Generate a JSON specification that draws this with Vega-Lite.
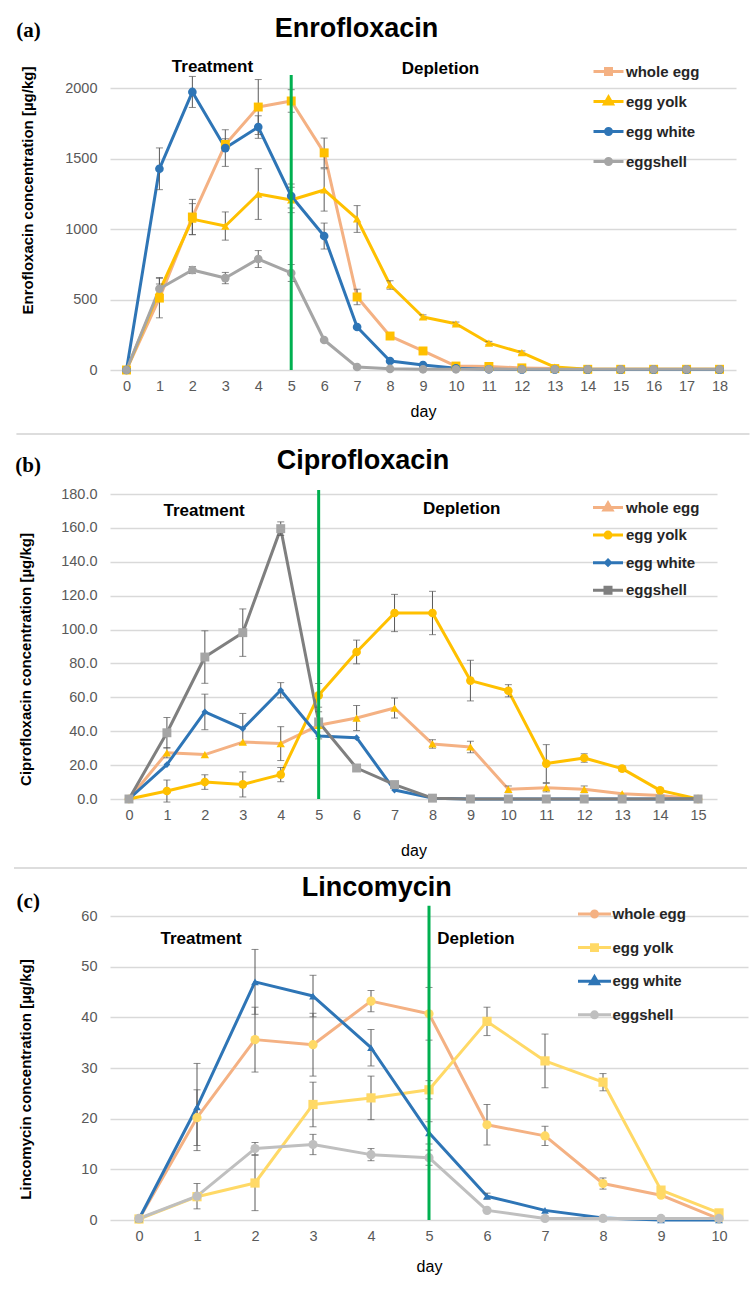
{
  "$schema": "https://vega.github.io/schema/vega-lite/v6.json",
  "background": "white",
  "padding": {"left": 13, "top": 14, "right": 1, "bottom": 5},
  "bounds": "flush",
  "spacing": 117,
  "config": {
    "font": "Liberation Sans",
    "view": {"stroke": null},
    "axis": {"labelFont": "Liberation Sans", "labelFontSize": 14.5, "labelColor": "#595959", "labelOverlap": false, "ticks": false, "domain": false, "gridColor": "#D9D9D9", "gridWidth": 1.5, "titleFont": "Liberation Sans", "titleColor": "#000000"},
    "axisX": {"grid": false, "labelPadding": 9, "titleFontSize": 16, "titleFontWeight": "normal", "labelAngle": 0, "labelFlush": false, "format": "d"},
    "axisY": {"labelPadding": 13, "titleFontSize": 15, "titleFontWeight": "bold", "titleBaseline": "middle", "labelFlush": false},
    "legend": {"padding": 0, "labelFont": "Liberation Sans", "labelFontSize": 15, "labelFontWeight": "bold", "labelColor": "#262626", "symbolStrokeWidth": 3, "symbolOpacity": 1}
  },
  "datasets": {
    "a": [
      {"day": 0, "series": "whole egg", "v": 0, "sd": 0}, {"day": 1, "series": "whole egg", "v": 510, "sd": 140}, {"day": 2, "series": "whole egg", "v": 1085, "sd": 125}, {"day": 3, "series": "whole egg", "v": 1600, "sd": 40}, {"day": 4, "series": "whole egg", "v": 1865, "sd": 195}, {"day": 5, "series": "whole egg", "v": 1908, "sd": 80}, {"day": 6, "series": "whole egg", "v": 1540, "sd": 105}, {"day": 7, "series": "whole egg", "v": 518, "sd": 55}, {"day": 8, "series": "whole egg", "v": 241, "sd": 0}, {"day": 9, "series": "whole egg", "v": 135, "sd": 0}, {"day": 10, "series": "whole egg", "v": 28, "sd": 0}, {"day": 11, "series": "whole egg", "v": 25, "sd": 0}, {"day": 12, "series": "whole egg", "v": 15, "sd": 0}, {"day": 13, "series": "whole egg", "v": 10, "sd": 0}, {"day": 14, "series": "whole egg", "v": 5, "sd": 0}, {"day": 15, "series": "whole egg", "v": 5, "sd": 0}, {"day": 16, "series": "whole egg", "v": 5, "sd": 0}, {"day": 17, "series": "whole egg", "v": 5, "sd": 0}, {"day": 18, "series": "whole egg", "v": 5, "sd": 0},
      {"day": 0, "series": "egg yolk", "v": 0, "sd": 0}, {"day": 1, "series": "egg yolk", "v": 560, "sd": 50}, {"day": 2, "series": "egg yolk", "v": 1070, "sd": 110}, {"day": 3, "series": "egg yolk", "v": 1021, "sd": 100}, {"day": 4, "series": "egg yolk", "v": 1248, "sd": 180}, {"day": 5, "series": "egg yolk", "v": 1206, "sd": 90}, {"day": 6, "series": "egg yolk", "v": 1277, "sd": 150}, {"day": 7, "series": "egg yolk", "v": 1071, "sd": 95}, {"day": 8, "series": "egg yolk", "v": 603, "sd": 30}, {"day": 9, "series": "egg yolk", "v": 376, "sd": 15}, {"day": 10, "series": "egg yolk", "v": 328, "sd": 12}, {"day": 11, "series": "egg yolk", "v": 191, "sd": 12}, {"day": 12, "series": "egg yolk", "v": 123, "sd": 12}, {"day": 13, "series": "egg yolk", "v": 21, "sd": 0}, {"day": 14, "series": "egg yolk", "v": 5, "sd": 0}, {"day": 15, "series": "egg yolk", "v": 5, "sd": 0}, {"day": 16, "series": "egg yolk", "v": 5, "sd": 0}, {"day": 17, "series": "egg yolk", "v": 5, "sd": 0}, {"day": 18, "series": "egg yolk", "v": 5, "sd": 0},
      {"day": 0, "series": "egg white", "v": 0, "sd": 0}, {"day": 1, "series": "egg white", "v": 1427, "sd": 148}, {"day": 2, "series": "egg white", "v": 1972, "sd": 110}, {"day": 3, "series": "egg white", "v": 1574, "sd": 130}, {"day": 4, "series": "egg white", "v": 1723, "sd": 80}, {"day": 5, "series": "egg white", "v": 1234, "sd": 85}, {"day": 6, "series": "egg white", "v": 950, "sd": 92}, {"day": 7, "series": "egg white", "v": 305, "sd": 0}, {"day": 8, "series": "egg white", "v": 64, "sd": 0}, {"day": 9, "series": "egg white", "v": 35, "sd": 0}, {"day": 10, "series": "egg white", "v": 12, "sd": 0}, {"day": 11, "series": "egg white", "v": 5, "sd": 0}, {"day": 12, "series": "egg white", "v": 3, "sd": 0}, {"day": 13, "series": "egg white", "v": 3, "sd": 0}, {"day": 14, "series": "egg white", "v": 3, "sd": 0}, {"day": 15, "series": "egg white", "v": 3, "sd": 0}, {"day": 16, "series": "egg white", "v": 3, "sd": 0}, {"day": 17, "series": "egg white", "v": 3, "sd": 0}, {"day": 18, "series": "egg white", "v": 3, "sd": 0},
      {"day": 0, "series": "eggshell", "v": 0, "sd": 0}, {"day": 1, "series": "eggshell", "v": 576, "sd": 80}, {"day": 2, "series": "eggshell", "v": 709, "sd": 25}, {"day": 3, "series": "eggshell", "v": 652, "sd": 40}, {"day": 4, "series": "eggshell", "v": 787, "sd": 60}, {"day": 5, "series": "eggshell", "v": 688, "sd": 60}, {"day": 6, "series": "eggshell", "v": 213, "sd": 0}, {"day": 7, "series": "eggshell", "v": 21, "sd": 0}, {"day": 8, "series": "eggshell", "v": 8, "sd": 0}, {"day": 9, "series": "eggshell", "v": 5, "sd": 0}, {"day": 10, "series": "eggshell", "v": 5, "sd": 0}, {"day": 11, "series": "eggshell", "v": 5, "sd": 0}, {"day": 12, "series": "eggshell", "v": 5, "sd": 0}, {"day": 13, "series": "eggshell", "v": 5, "sd": 0}, {"day": 14, "series": "eggshell", "v": 5, "sd": 0}, {"day": 15, "series": "eggshell", "v": 5, "sd": 0}, {"day": 16, "series": "eggshell", "v": 5, "sd": 0}, {"day": 17, "series": "eggshell", "v": 5, "sd": 0}, {"day": 18, "series": "eggshell", "v": 5, "sd": 0}
    ],
    "b": [
      {"day": 0, "series": "whole egg", "v": 0, "sd": 0}, {"day": 1, "series": "whole egg", "v": 27.3, "sd": 3}, {"day": 2, "series": "whole egg", "v": 26.2, "sd": 0}, {"day": 3, "series": "whole egg", "v": 33.6, "sd": 0}, {"day": 4, "series": "whole egg", "v": 32.7, "sd": 10}, {"day": 5, "series": "whole egg", "v": 43.5, "sd": 8}, {"day": 6, "series": "whole egg", "v": 47.8, "sd": 7.4}, {"day": 7, "series": "whole egg", "v": 53.7, "sd": 5.9}, {"day": 8, "series": "whole egg", "v": 32.5, "sd": 2.5}, {"day": 9, "series": "whole egg", "v": 30.7, "sd": 3.4}, {"day": 10, "series": "whole egg", "v": 5.7, "sd": 2}, {"day": 11, "series": "whole egg", "v": 6.7, "sd": 2.5}, {"day": 12, "series": "whole egg", "v": 5.7, "sd": 2}, {"day": 13, "series": "whole egg", "v": 3.1, "sd": 0}, {"day": 14, "series": "whole egg", "v": 2, "sd": 0}, {"day": 15, "series": "whole egg", "v": 0, "sd": 0},
      {"day": 0, "series": "egg yolk", "v": 0, "sd": 0}, {"day": 1, "series": "egg yolk", "v": 4.7, "sd": 6.5}, {"day": 2, "series": "egg yolk", "v": 10, "sd": 4.3}, {"day": 3, "series": "egg yolk", "v": 8.6, "sd": 7.4}, {"day": 4, "series": "egg yolk", "v": 14.4, "sd": 4.2}, {"day": 5, "series": "egg yolk", "v": 61.2, "sd": 7}, {"day": 6, "series": "egg yolk", "v": 86.8, "sd": 7}, {"day": 7, "series": "egg yolk", "v": 109.8, "sd": 11}, {"day": 8, "series": "egg yolk", "v": 109.8, "sd": 12.8}, {"day": 9, "series": "egg yolk", "v": 69.9, "sd": 12}, {"day": 10, "series": "egg yolk", "v": 63.9, "sd": 3.6}, {"day": 11, "series": "egg yolk", "v": 20.9, "sd": 11.2}, {"day": 12, "series": "egg yolk", "v": 24.2, "sd": 2.5}, {"day": 13, "series": "egg yolk", "v": 17.9, "sd": 1.5}, {"day": 14, "series": "egg yolk", "v": 5.1, "sd": 1}, {"day": 15, "series": "egg yolk", "v": 0, "sd": 0},
      {"day": 0, "series": "egg white", "v": 0, "sd": 0}, {"day": 1, "series": "egg white", "v": 20.3, "sd": 0}, {"day": 2, "series": "egg white", "v": 51.4, "sd": 10.5}, {"day": 3, "series": "egg white", "v": 41.5, "sd": 9}, {"day": 4, "series": "egg white", "v": 64.2, "sd": 4.5}, {"day": 5, "series": "egg white", "v": 37.2, "sd": 0}, {"day": 6, "series": "egg white", "v": 36.2, "sd": 0}, {"day": 7, "series": "egg white", "v": 5.3, "sd": 0}, {"day": 8, "series": "egg white", "v": 0.5, "sd": 0}, {"day": 9, "series": "egg white", "v": 0, "sd": 0}, {"day": 10, "series": "egg white", "v": 0, "sd": 0}, {"day": 11, "series": "egg white", "v": 0, "sd": 0}, {"day": 12, "series": "egg white", "v": 0, "sd": 0}, {"day": 13, "series": "egg white", "v": 0, "sd": 0}, {"day": 14, "series": "egg white", "v": 0, "sd": 0}, {"day": 15, "series": "egg white", "v": 0, "sd": 0},
      {"day": 0, "series": "eggshell", "v": 0, "sd": 0}, {"day": 1, "series": "eggshell", "v": 39.1, "sd": 9}, {"day": 2, "series": "eggshell", "v": 83.8, "sd": 15.5}, {"day": 3, "series": "eggshell", "v": 98.2, "sd": 14}, {"day": 4, "series": "eggshell", "v": 159.6, "sd": 4}, {"day": 5, "series": "eggshell", "v": 45.5, "sd": 0}, {"day": 6, "series": "eggshell", "v": 18.3, "sd": 0}, {"day": 7, "series": "eggshell", "v": 8.5, "sd": 0}, {"day": 8, "series": "eggshell", "v": 0.5, "sd": 0}, {"day": 9, "series": "eggshell", "v": 0, "sd": 0}, {"day": 10, "series": "eggshell", "v": 0, "sd": 0}, {"day": 11, "series": "eggshell", "v": 0, "sd": 0}, {"day": 12, "series": "eggshell", "v": 0, "sd": 0}, {"day": 13, "series": "eggshell", "v": 0, "sd": 0}, {"day": 14, "series": "eggshell", "v": 0, "sd": 0}, {"day": 15, "series": "eggshell", "v": 0, "sd": 0}
    ],
    "c": [
      {"day": 0, "series": "whole egg", "v": 0.2, "sd": 0}, {"day": 1, "series": "whole egg", "v": 20.2, "sd": 5.5}, {"day": 2, "series": "whole egg", "v": 35.6, "sd": 6.4}, {"day": 3, "series": "whole egg", "v": 34.6, "sd": 6.2}, {"day": 4, "series": "whole egg", "v": 43.2, "sd": 2.1}, {"day": 5, "series": "whole egg", "v": 40.7, "sd": 5.2}, {"day": 6, "series": "whole egg", "v": 18.8, "sd": 4}, {"day": 7, "series": "whole egg", "v": 16.6, "sd": 1.9}, {"day": 8, "series": "whole egg", "v": 7.2, "sd": 1.1}, {"day": 9, "series": "whole egg", "v": 4.9, "sd": 0}, {"day": 10, "series": "whole egg", "v": 0.2, "sd": 0},
      {"day": 0, "series": "egg yolk", "v": 0.2, "sd": 0}, {"day": 1, "series": "egg yolk", "v": 4.6, "sd": 0}, {"day": 2, "series": "egg yolk", "v": 7.3, "sd": 5.45}, {"day": 3, "series": "egg yolk", "v": 22.8, "sd": 4.4}, {"day": 4, "series": "egg yolk", "v": 24.1, "sd": 4.3}, {"day": 5, "series": "egg yolk", "v": 25.7, "sd": 1.8}, {"day": 6, "series": "egg yolk", "v": 39.2, "sd": 2.8}, {"day": 7, "series": "egg yolk", "v": 31.4, "sd": 5.3}, {"day": 8, "series": "egg yolk", "v": 27.2, "sd": 1.7}, {"day": 9, "series": "egg yolk", "v": 5.9, "sd": 0}, {"day": 10, "series": "egg yolk", "v": 1.4, "sd": 0},
      {"day": 0, "series": "egg white", "v": 0.2, "sd": 0}, {"day": 1, "series": "egg white", "v": 22.3, "sd": 8.6}, {"day": 2, "series": "egg white", "v": 47, "sd": 6.4}, {"day": 3, "series": "egg white", "v": 44.2, "sd": 4.1}, {"day": 4, "series": "egg white", "v": 34, "sd": 3.6}, {"day": 5, "series": "egg white", "v": 17.2, "sd": 2.2}, {"day": 6, "series": "egg white", "v": 4.7, "sd": 0.6}, {"day": 7, "series": "egg white", "v": 1.9, "sd": 0}, {"day": 8, "series": "egg white", "v": 0.4, "sd": 0}, {"day": 9, "series": "egg white", "v": 0, "sd": 0}, {"day": 10, "series": "egg white", "v": 0, "sd": 0},
      {"day": 0, "series": "eggshell", "v": 0.3, "sd": 0}, {"day": 1, "series": "eggshell", "v": 4.7, "sd": 2.5}, {"day": 2, "series": "eggshell", "v": 14.1, "sd": 1.2}, {"day": 3, "series": "eggshell", "v": 14.9, "sd": 2}, {"day": 4, "series": "eggshell", "v": 12.9, "sd": 1.2}, {"day": 5, "series": "eggshell", "v": 12.3, "sd": 1.5}, {"day": 6, "series": "eggshell", "v": 1.9, "sd": 0}, {"day": 7, "series": "eggshell", "v": 0.3, "sd": 0}, {"day": 8, "series": "eggshell", "v": 0.3, "sd": 0}, {"day": 9, "series": "eggshell", "v": 0.3, "sd": 0}, {"day": 10, "series": "eggshell", "v": 0.3, "sd": 0}
    ]
  },
  "resolve": {"scale": {"x": "independent", "y": "independent", "color": "independent", "fill": "independent", "shape": "independent"}},
  "vconcat": [
    {
      "width": 626, "height": 282,
      "layer": [
        {"data": {"name": "a"}, "transform": [{"filter": "datum.day < 0"}], "mark": {"type": "point", "filled": true, "opacity": 1},
         "encoding": {
           "x": {"field": "day", "type": "quantitative", "title": "day", "scale": {"domain": [-0.5, 18.5], "nice": false, "zero": false}, "axis": {"values": [0,1,2,3,4,5,6,7,8,9,10,11,12,13,14,15,16,17,18], "tickCount": 40, "labelOverlap": false, "titlePadding": 11}},
           "y": {"field": "v", "type": "quantitative", "title": "Enrofloxacin concentration [µg/kg]", "scale": {"domain": [0, 2000], "nice": false}, "axis": {"values": [0, 500, 1000, 1500, 2000], "tickCount": 20, "labelOverlap": false, "format": "d", "titleX": -82.5, "titleY": 102}},
           "fill": {"field": "series", "type": "nominal", "scale": {"domain": ["whole egg", "egg yolk", "egg white", "eggshell"], "range": ["#FFC000", "#FFC000", "#2E75B6", "#A5A5A5"]},
             "legend": {"title": null, "orient": "none", "legendX": 482, "legendY": -33, "symbolSize": 900, "labelOffset": 1, "rowPadding": 4}},
           "shape": {"field": "series", "type": "nominal", "scale": {"domain": ["whole egg", "egg yolk", "egg white", "eggshell"], "range": ["M-1,0H1M-0.2,-0.2H0.2V0.2H-0.2Z", "M-1,0H1M0,-0.3L0.27,0.17L-0.27,0.17Z", "M-1,0H1M-0.2,0A0.2,0.2,0,1,0,0.2,0A0.2,0.2,0,1,0,-0.2,0Z", "M-1,0H1M-0.2,0A0.2,0.2,0,1,0,0.2,0A0.2,0.2,0,1,0,-0.2,0Z"]},
             "legend": {"title": null, "orient": "none", "legendX": 482, "legendY": -33, "symbolSize": 900, "labelOffset": 1, "rowPadding": 4}}
         }},
        {"data": {"name": "a"}, "mark": {"type": "line", "strokeWidth": 3, "strokeJoin": "round", "strokeCap": "round"},
         "encoding": {
           "x": {"field": "day", "type": "quantitative", "title": "day"},
           "y": {"field": "v", "type": "quantitative", "title": "Enrofloxacin concentration [µg/kg]"},
           "color": {"field": "series", "type": "nominal", "scale": {"domain": ["whole egg", "egg yolk", "egg white", "eggshell"], "range": ["#F4B183", "#FFC000", "#2E75B6", "#A5A5A5"]},
             "legend": {"title": null, "orient": "none", "legendX": 482, "legendY": -33, "symbolSize": 900, "labelOffset": 1, "rowPadding": 4}}
         }},
        {"data": {"name": "a"}, "transform": [{"filter": "datum.sd > 0"}], "mark": {"type": "errorbar", "ticks": {"size": 7}, "color": "#595959", "thickness": 1},
         "encoding": {"x": {"field": "day", "type": "quantitative", "title": "day"}, "y": {"field": "v", "type": "quantitative", "title": "Enrofloxacin concentration [µg/kg]"}, "yError": {"field": "sd"}}},
        {"data": {"name": "a"}, "transform": [{"filter": "datum.series == 'whole egg'"}], "mark": {"type": "point", "filled": true, "opacity": 1, "shape": "square", "size": 80, "color": "#FFC000"},
         "encoding": {"x": {"field": "day", "type": "quantitative", "title": "day"}, "y": {"field": "v", "type": "quantitative", "title": "Enrofloxacin concentration [µg/kg]"}}},
        {"data": {"name": "a"}, "transform": [{"filter": "datum.series == 'egg yolk'"}], "mark": {"type": "point", "filled": true, "opacity": 1, "shape": "triangle-up", "size": 70, "color": "#FFC000"},
         "encoding": {"x": {"field": "day", "type": "quantitative", "title": "day"}, "y": {"field": "v", "type": "quantitative", "title": "Enrofloxacin concentration [µg/kg]"}}},
        {"data": {"name": "a"}, "transform": [{"filter": "datum.series == 'egg white'"}], "mark": {"type": "point", "filled": true, "opacity": 1, "shape": "circle", "size": 75, "color": "#2E75B6"},
         "encoding": {"x": {"field": "day", "type": "quantitative", "title": "day"}, "y": {"field": "v", "type": "quantitative", "title": "Enrofloxacin concentration [µg/kg]"}}},
        {"data": {"name": "a"}, "transform": [{"filter": "datum.series == 'eggshell'"}], "mark": {"type": "point", "filled": true, "opacity": 1, "shape": "circle", "size": 75, "color": "#A5A5A5"},
         "encoding": {"x": {"field": "day", "type": "quantitative", "title": "day"}, "y": {"field": "v", "type": "quantitative", "title": "Enrofloxacin concentration [µg/kg]"}}},
        {"data": {"values": [{}]}, "mark": {"type": "rule", "color": "#00B050", "strokeWidth": 3}, "encoding": {"x": {"datum": 5}, "y": {"datum": 0}, "y2": {"datum": 2092}}},
        {"data": {"values": [{}]}, "mark": {"type": "rule", "color": "#DDDDDD", "strokeWidth": 2}, "encoding": {"x": {"datum": -3.34}, "x2": {"datum": 18.91}, "y": {"datum": -454}}},
        {"data": {"values": [{"t": "Enrofloxacin"}]}, "mark": {"type": "text", "fontSize": 27, "fontWeight": "bold", "baseline": "alphabetic", "color": "#000000"}, "encoding": {"x": {"datum": 6.98}, "y": {"datum": 2362}, "text": {"field": "t"}}},
        {"data": {"values": [{"t": "(a)"}]}, "mark": {"type": "text", "font": "Liberation Serif", "fontSize": 21, "fontWeight": "bold", "baseline": "alphabetic", "color": "#000000"}, "encoding": {"x": {"datum": -2.975}, "y": {"datum": 2362}, "text": {"field": "t"}}},
        {"data": {"values": [{"t": "Treatment"}]}, "mark": {"type": "text", "fontSize": 17, "fontWeight": "bold", "baseline": "alphabetic", "color": "#000000"}, "encoding": {"x": {"datum": 2.61}, "y": {"datum": 2113}, "text": {"field": "t"}}},
        {"data": {"values": [{"t": "Depletion"}]}, "mark": {"type": "text", "fontSize": 17, "fontWeight": "bold", "baseline": "alphabetic", "color": "#000000"}, "encoding": {"x": {"datum": 9.53}, "y": {"datum": 2099}, "text": {"field": "t"}}}
      ]
    },
    {
      "width": 607, "height": 312,
      "layer": [
        {"data": {"name": "b"}, "transform": [{"filter": "datum.day < 0"}], "mark": {"type": "point", "filled": true, "opacity": 1},
         "encoding": {
           "x": {"field": "day", "type": "quantitative", "title": "day", "scale": {"domain": [-0.5, 15.5], "nice": false, "zero": false}, "axis": {"values": [0,1,2,3,4,5,6,7,8,9,10,11,12,13,14,15], "tickCount": 40, "labelOverlap": false, "titlePadding": 21}},
           "y": {"field": "v", "type": "quantitative", "title": "Ciprofloxacin concentration [µg/kg]", "scale": {"domain": [0, 184.18], "nice": false}, "axis": {"values": [0, 20, 40, 60, 80, 100, 120, 140, 160, 180], "tickCount": 20, "labelOverlap": false, "format": ".1f", "titleX": -85, "titleY": 172}},
           "fill": {"field": "series", "type": "nominal", "scale": {"domain": ["whole egg", "egg yolk", "egg white", "eggshell"], "range": ["#FFC000", "#FFC000", "#2E75B6", "#A5A5A5"]},
             "legend": {"title": null, "orient": "none", "legendX": 481.5, "legendY": 4, "symbolSize": 900, "labelOffset": 1.5, "rowPadding": 1.6}},
           "shape": {"field": "series", "type": "nominal", "scale": {"domain": ["whole egg", "egg yolk", "egg white", "eggshell"], "range": ["M-1,0H1M0,-0.3L0.27,0.17L-0.27,0.17Z", "M-1,0H1M-0.2,0A0.2,0.2,0,1,0,0.2,0A0.2,0.2,0,1,0,-0.2,0Z", "M-1,0H1M0,-0.17L0.17,0L0,0.17L-0.17,0Z", "M-1,0H1M-0.2,-0.2H0.2V0.2H-0.2Z"]},
             "legend": {"title": null, "orient": "none", "legendX": 481.5, "legendY": 4, "symbolSize": 900, "labelOffset": 1.5, "rowPadding": 1.6}}
         }},
        {"data": {"name": "b"}, "mark": {"type": "line", "strokeWidth": 3, "strokeJoin": "round", "strokeCap": "round"},
         "encoding": {
           "x": {"field": "day", "type": "quantitative", "title": "day"},
           "y": {"field": "v", "type": "quantitative", "title": "Ciprofloxacin concentration [µg/kg]"},
           "color": {"field": "series", "type": "nominal", "scale": {"domain": ["whole egg", "egg yolk", "egg white", "eggshell"], "range": ["#F4B183", "#FFC000", "#2E75B6", "#7F7F7F"]},
             "legend": {"title": null, "orient": "none", "legendX": 481.5, "legendY": 4, "symbolSize": 900, "labelOffset": 1.5, "rowPadding": 1.6}}
         }},
        {"data": {"name": "b"}, "transform": [{"filter": "datum.sd > 0"}], "mark": {"type": "errorbar", "ticks": {"size": 7}, "color": "#595959", "thickness": 1},
         "encoding": {"x": {"field": "day", "type": "quantitative", "title": "day"}, "y": {"field": "v", "type": "quantitative", "title": "Ciprofloxacin concentration [µg/kg]"}, "yError": {"field": "sd"}}},
        {"data": {"name": "b"}, "transform": [{"filter": "datum.series == 'whole egg'"}], "mark": {"type": "point", "filled": true, "opacity": 1, "shape": "triangle-up", "size": 70, "color": "#FFC000"},
         "encoding": {"x": {"field": "day", "type": "quantitative", "title": "day"}, "y": {"field": "v", "type": "quantitative", "title": "Ciprofloxacin concentration [µg/kg]"}}},
        {"data": {"name": "b"}, "transform": [{"filter": "datum.series == 'egg yolk'"}], "mark": {"type": "point", "filled": true, "opacity": 1, "shape": "circle", "size": 75, "color": "#FFC000"},
         "encoding": {"x": {"field": "day", "type": "quantitative", "title": "day"}, "y": {"field": "v", "type": "quantitative", "title": "Ciprofloxacin concentration [µg/kg]"}}},
        {"data": {"name": "b"}, "transform": [{"filter": "datum.series == 'egg white'"}], "mark": {"type": "point", "filled": true, "opacity": 1, "shape": "diamond", "size": 45, "color": "#2E75B6"},
         "encoding": {"x": {"field": "day", "type": "quantitative", "title": "day"}, "y": {"field": "v", "type": "quantitative", "title": "Ciprofloxacin concentration [µg/kg]"}}},
        {"data": {"name": "b"}, "transform": [{"filter": "datum.series == 'eggshell'"}], "mark": {"type": "point", "filled": true, "opacity": 1, "shape": "square", "size": 80, "color": "#A5A5A5"},
         "encoding": {"x": {"field": "day", "type": "quantitative", "title": "day"}, "y": {"field": "v", "type": "quantitative", "title": "Ciprofloxacin concentration [µg/kg]"}}},
        {"data": {"values": [{}]}, "mark": {"type": "rule", "color": "#00B050", "strokeWidth": 3}, "encoding": {"x": {"datum": 5}, "y": {"datum": 0}, "y2": {"datum": 182.4}}},
        {"data": {"values": [{}]}, "mark": {"type": "rule", "color": "#DDDDDD", "strokeWidth": 2}, "encoding": {"x": {"datum": -3.03}, "x2": {"datum": 16.29}, "y": {"datum": -40.7}}},
        {"data": {"values": [{"t": "Ciprofloxacin"}]}, "mark": {"type": "text", "fontSize": 27, "fontWeight": "bold", "baseline": "alphabetic", "color": "#000000"}, "encoding": {"x": {"datum": 6.17}, "y": {"datum": 194.8}, "text": {"field": "t"}}},
        {"data": {"values": [{"t": "(b)"}]}, "mark": {"type": "text", "font": "Liberation Serif", "fontSize": 21, "fontWeight": "bold", "baseline": "alphabetic", "color": "#000000"}, "encoding": {"x": {"datum": -2.66}, "y": {"datum": 193}, "text": {"field": "t"}}},
        {"data": {"values": [{"t": "Treatment"}]}, "mark": {"type": "text", "fontSize": 17, "fontWeight": "bold", "baseline": "alphabetic", "color": "#000000"}, "encoding": {"x": {"datum": 1.98}, "y": {"datum": 167}, "text": {"field": "t"}}},
        {"data": {"values": [{"t": "Depletion"}]}, "mark": {"type": "text", "fontSize": 17, "fontWeight": "bold", "baseline": "alphabetic", "color": "#000000"}, "encoding": {"x": {"datum": 8.77}, "y": {"datum": 168}, "text": {"field": "t"}}}
      ]
    },
    {
      "width": 638, "height": 304,
      "layer": [
        {"data": {"name": "c"}, "transform": [{"filter": "datum.day < 0"}], "mark": {"type": "point", "filled": true, "opacity": 1},
         "encoding": {
           "x": {"field": "day", "type": "quantitative", "title": "day", "scale": {"domain": [-0.5, 10.5], "nice": false, "zero": false}, "axis": {"values": [0,1,2,3,4,5,6,7,8,9,10], "tickCount": 40, "labelOverlap": false, "titlePadding": 16}},
           "y": {"field": "v", "type": "quantitative", "title": "Lincomycin concentration [µg/kg]", "scale": {"domain": [0, 60], "nice": false}, "axis": {"values": [0, 10, 20, 30, 40, 50, 60], "tickCount": 20, "labelOverlap": false, "format": "d", "titleX": -85, "titleY": 163}},
           "fill": {"field": "series", "type": "nominal", "scale": {"domain": ["whole egg", "egg yolk", "egg white", "eggshell"], "range": ["#FFD966", "#FFD966", "#2E75B6", "#BFBFBF"]},
             "legend": {"title": null, "orient": "none", "legendX": 466.5, "legendY": -20, "symbolSize": 1089, "labelOffset": 0, "rowPadding": 6.6}},
           "shape": {"field": "series", "type": "nominal", "scale": {"domain": ["whole egg", "egg yolk", "egg white", "eggshell"], "range": ["M-1,0H1M-0.18,0A0.18,0.18,0,1,0,0.18,0A0.18,0.18,0,1,0,-0.18,0Z", "M-1,0H1M-0.18,-0.18H0.18V0.18H-0.18Z", "M-1,0H1M0,-0.27L0.25,0.16L-0.25,0.16Z", "M-1,0H1M-0.18,0A0.18,0.18,0,1,0,0.18,0A0.18,0.18,0,1,0,-0.18,0Z"]},
             "legend": {"title": null, "orient": "none", "legendX": 466.5, "legendY": -20, "symbolSize": 1089, "labelOffset": 0, "rowPadding": 6.6}}
         }},
        {"data": {"name": "c"}, "mark": {"type": "line", "strokeWidth": 3, "strokeJoin": "round", "strokeCap": "round"},
         "encoding": {
           "x": {"field": "day", "type": "quantitative", "title": "day"},
           "y": {"field": "v", "type": "quantitative", "title": "Lincomycin concentration [µg/kg]"},
           "color": {"field": "series", "type": "nominal", "scale": {"domain": ["whole egg", "egg yolk", "egg white", "eggshell"], "range": ["#F4B183", "#FFD966", "#2E75B6", "#BFBFBF"]},
             "legend": {"title": null, "orient": "none", "legendX": 466.5, "legendY": -20, "symbolSize": 1089, "labelOffset": 0, "rowPadding": 6.6}}
         }},
        {"data": {"name": "c"}, "transform": [{"filter": "datum.sd > 0"}], "mark": {"type": "errorbar", "ticks": {"size": 7}, "color": "#595959", "thickness": 1},
         "encoding": {"x": {"field": "day", "type": "quantitative", "title": "day"}, "y": {"field": "v", "type": "quantitative", "title": "Lincomycin concentration [µg/kg]"}, "yError": {"field": "sd"}}},
        {"data": {"name": "c"}, "transform": [{"filter": "datum.series == 'whole egg'"}], "mark": {"type": "point", "filled": true, "opacity": 1, "shape": "circle", "size": 85, "color": "#FFD966"},
         "encoding": {"x": {"field": "day", "type": "quantitative", "title": "day"}, "y": {"field": "v", "type": "quantitative", "title": "Lincomycin concentration [µg/kg]"}}},
        {"data": {"name": "c"}, "transform": [{"filter": "datum.series == 'egg yolk'"}], "mark": {"type": "point", "filled": true, "opacity": 1, "shape": "square", "size": 85, "color": "#FFD966"},
         "encoding": {"x": {"field": "day", "type": "quantitative", "title": "day"}, "y": {"field": "v", "type": "quantitative", "title": "Lincomycin concentration [µg/kg]"}}},
        {"data": {"name": "c"}, "transform": [{"filter": "datum.series == 'egg white'"}], "mark": {"type": "point", "filled": true, "opacity": 1, "shape": "triangle-up", "size": 60, "color": "#2E75B6"},
         "encoding": {"x": {"field": "day", "type": "quantitative", "title": "day"}, "y": {"field": "v", "type": "quantitative", "title": "Lincomycin concentration [µg/kg]"}}},
        {"data": {"name": "c"}, "transform": [{"filter": "datum.series == 'eggshell'"}], "mark": {"type": "point", "filled": true, "opacity": 1, "shape": "circle", "size": 85, "color": "#BFBFBF"},
         "encoding": {"x": {"field": "day", "type": "quantitative", "title": "day"}, "y": {"field": "v", "type": "quantitative", "title": "Lincomycin concentration [µg/kg]"}}},
        {"data": {"values": [{}]}, "mark": {"type": "rule", "color": "#00B050", "strokeWidth": 3}, "encoding": {"x": {"datum": 5}, "y": {"datum": 0}, "y2": {"datum": 62}}},
        {"data": {"values": [{"t": "Lincomycin"}]}, "mark": {"type": "text", "fontSize": 27, "fontWeight": "bold", "baseline": "alphabetic", "color": "#000000"}, "encoding": {"x": {"datum": 4.1}, "y": {"datum": 63.9}, "text": {"field": "t"}}},
        {"data": {"values": [{"t": "(c)"}]}, "mark": {"type": "text", "font": "Liberation Serif", "fontSize": 21, "fontWeight": "bold", "baseline": "alphabetic", "color": "#000000"}, "encoding": {"x": {"datum": -1.91}, "y": {"datum": 61.6}, "text": {"field": "t"}}},
        {"data": {"values": [{"t": "Treatment"}]}, "mark": {"type": "text", "fontSize": 17, "fontWeight": "bold", "baseline": "alphabetic", "color": "#000000"}, "encoding": {"x": {"datum": 1.07}, "y": {"datum": 54.5}, "text": {"field": "t"}}},
        {"data": {"values": [{"t": "Depletion"}]}, "mark": {"type": "text", "fontSize": 17, "fontWeight": "bold", "baseline": "alphabetic", "color": "#000000"}, "encoding": {"x": {"datum": 5.81}, "y": {"datum": 54.5}, "text": {"field": "t"}}}
      ]
    }
  ]
}
